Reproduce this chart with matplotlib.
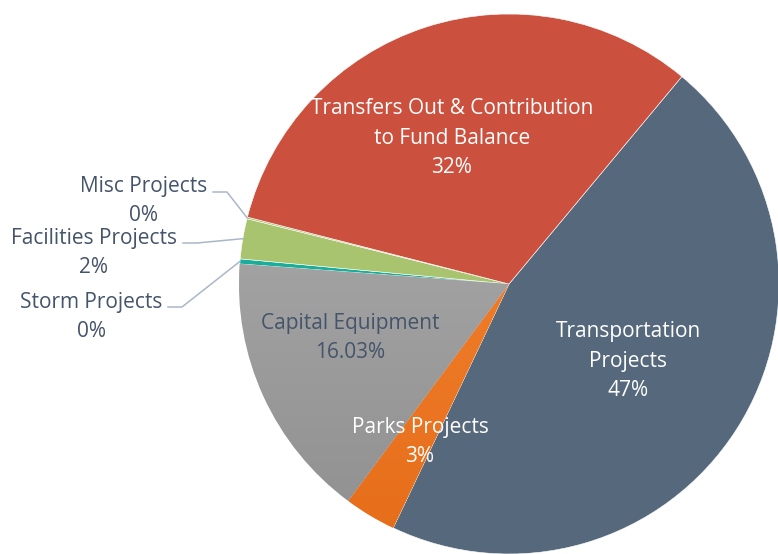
import numpy as np
import matplotlib
matplotlib.use("Agg")
import matplotlib.pyplot as plt
from matplotlib.colors import LinearSegmentedColormap

# data
categories = ['Transportation Projects', 'Parks Projects', 'Capital Equipment',
              'Storm Projects', 'Facilities Projects', 'Misc Projects',
              'Transfers Out & Contribution to Fund Balance']
shares = [46.0, 3.1, 16.03, 0.3, 2.4, 0.1, 32.07]
pct_labels = ['47%', '3%', '16.03%', '0%', '2%', '0%', '32%']
colors = ['#56687B', '#F0781F', '#A8A8A8', '#19AE9B', '#A8C46F', '#A8C46F', '#CB503E']

txt_dark = '#44546A'
plt.rcParams['font.family'] = ['Open Sans', 'DejaVu Sans']

fig = plt.figure(figsize=(7.78, 5.54), dpi=100)
W, H = 778, 554
cx, cy, R = 509, 284, 270
ax = fig.add_axes([(cx - R) / W, (H - cy - R) / H, 2 * R / W, 2 * R / H])

wedges, _ = ax.pie(shares, colors=colors, startangle=50.2, counterclock=False,
                   radius=1, wedgeprops=dict(edgecolor='white', linewidth=0.4))
for w in wedges:
    w.set_clip_on(False)

# gradient fills for parks and capital slices
grads = {1: ('#F78A36', '#E66D1A'), 2: ('#B2B2B2', '#8F8F8F')}
for i, (c1, c2) in grads.items():
    cmap = LinearSegmentedColormap.from_list('g%d' % i, [c2, c1])
    grad = np.linspace(0, 1, 256).reshape(-1, 1)
    im = ax.imshow(grad, cmap=cmap, extent=[-1, 1, -1, 1], origin='lower',
                   aspect='auto', zorder=wedges[i].get_zorder() + 0.1)
    im.set_clip_path(wedges[i])
    im.set_clip_on(True)


def px(x, y):
    # pixel position -> data coords
    return (x - cx) / R, (cy - y) / R


fs = 15
inside = {0: ((628, 361), 'white', 'Transportation\nProjects\n'),
          1: ((420, 442), 'white', 'Parks Projects\n'),
          2: ((350, 338), txt_dark, 'Capital Equipment\n'),
          6: ((452, 138), 'white', 'Transfers Out & Contribution\nto Fund Balance\n')}
for i, ((x, y), c, head) in inside.items():
    tx, ty = px(x, y)
    ax.text(tx, ty, head + pct_labels[i], color=c, fontsize=fs, ha='center',
            va='center', linespacing=1.55, zorder=6)

# outside labels with leader lines
outside = {5: ((144, 201), (213, 192), (227, 192)),
           4: ((94, 253), (183, 243), (197, 243)),
           3: ((91, 317), (168, 307), (182, 307))}
for i, (tpos, l0, l1) in outside.items():
    w = wedges[i]
    ang = np.deg2rad((w.theta1 + w.theta2) / 2)
    tip = (np.cos(ang), np.sin(ang))
    pts = [px(*l0), px(*l1), tip]
    ax.plot([p[0] for p in pts], [p[1] for p in pts], color='#A9B7C9',
            lw=1.1, clip_on=False, zorder=5)
    tx, ty = px(*tpos)
    ax.text(tx, ty, categories[i] + '\n' + pct_labels[i], color=txt_dark,
            fontsize=fs, ha='center', va='center', linespacing=1.55)

ax.set_xlim(-1, 1)
ax.set_ylim(-1, 1)
ax.set_aspect('equal')
ax.axis('off')

fig.savefig('out.png', dpi=100)
